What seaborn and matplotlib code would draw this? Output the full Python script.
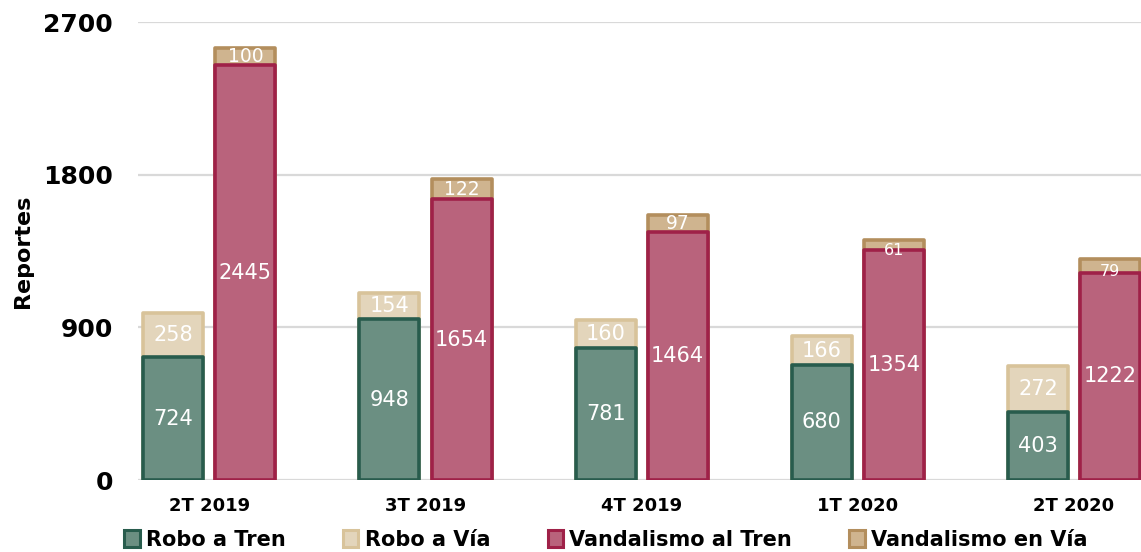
import matplotlib
matplotlib.use("Agg")
import matplotlib.pyplot as plt
from matplotlib.patches import Patch
import seaborn as sns
import pandas as pd

# Data
trimestres = ["2T 2019", "3T 2019", "4T 2019", "1T 2020", "2T 2020"]
robo_tren = [724, 948, 781, 680, 403]
robo_via = [258, 154, 160, 166, 272]
vand_tren = [2445, 1654, 1464, 1354, 1222]
vand_via = [100, 122, 97, 61, 79]
yticks = [0, 900, 1800, 2700]

# colours (fill, edge)
c_rt = ("#6b8f82", "#285c4d")
c_rv = ("#e3d5bb", "#d8c39a")
c_vt = ("#b9637c", "#9f2148")
c_vv = ("#cfb48f", "#b38e5d")

rows = []
for i, t in enumerate(trimestres):
    rows.append({"trimestre": t, "tipo": "Robo", "base": robo_tren[i],
                 "total": robo_tren[i] + robo_via[i]})
    rows.append({"trimestre": t, "tipo": "Vandalismo", "base": vand_tren[i],
                 "total": vand_tren[i] + vand_via[i]})
df = pd.DataFrame(rows)

sns.set_style("white")
plt.rcParams["font.family"] = ["DejaVu Sans"]
plt.rcParams["text.color"] = "black"
plt.rcParams["xtick.color"] = "black"
plt.rcParams["ytick.color"] = "black"
plt.rcParams["axes.labelcolor"] = "black"

fig = plt.figure(figsize=(11.41, 5.52), dpi=100)
ax = fig.add_axes([138 / 1141, 72 / 552, 1003 / 1141, 458 / 552])

# totals first (top segment colour), then the base segment over it
sns.barplot(data=df, x="trimestre", y="total", hue="tipo", order=trimestres,
            palette={"Robo": c_rv[0], "Vandalismo": c_vv[0]}, saturation=1,
            width=0.667, gap=0.167, errorbar=None, legend=False, ax=ax,
            zorder=2)
sns.barplot(data=df, x="trimestre", y="base", hue="tipo", order=trimestres,
            palette={"Robo": c_rt[0], "Vandalismo": c_vt[0]}, saturation=1,
            width=0.667, gap=0.167, errorbar=None, legend=False, ax=ax,
            zorder=3)

edges = [c_rv[1], c_vv[1], c_rt[1], c_vt[1]]
for cont, ec in zip(ax.containers, edges):
    for p in cont:
        p.set_edgecolor(ec)
        p.set_linewidth(2.6)
        p.set_joinstyle("round")

# value labels
tops = [robo_via, vand_via]
bases = [robo_tren, vand_tren]
for k in range(2):
    top_cont = ax.containers[k]
    base_cont = ax.containers[k + 2]
    for i, (pt, pb) in enumerate(zip(top_cont, base_cont)):
        cx = pb.get_x() + pb.get_width() / 2
        b = bases[k][i]
        tv = tops[k][i]
        ax.text(cx, b / 2, str(b), ha="center", va="center", color="white",
                fontsize=15, zorder=5)
        fs = 15 if tv > 140 else (13.5 if tv > 90 else 11.5)
        ty = b + tv / 2 - (30 if tv < 90 else 0)
        ax.text(cx, ty, str(tv), ha="center", va="center", color="white",
                fontsize=fs, zorder=5)

ax.set_ylim(0, 2700)
ax.set_xlim(-0.33, 4.31)
ax.set_yticks(yticks)
ax.set_yticklabels([str(v) for v in yticks], fontsize=18, fontweight="bold")
ax.tick_params(axis="y", length=0, pad=18)
ax.tick_params(axis="x", length=0, pad=12, labelsize=13)
for lab in ax.get_xticklabels():
    lab.set_fontweight("bold")
ax.grid(axis="y", color="#d9d9d9", linewidth=1.6, zorder=0)
ax.set_axisbelow(True)
sns.despine(ax=ax, left=True, bottom=True)
ax.set_xlabel("")
ax.set_ylabel("Reportes", fontsize=16, fontweight="bold")
ax.yaxis.set_label_coords(-0.105, 0.5)

handles = [Patch(facecolor=c[0], edgecolor=c[1], linewidth=2.2)
           for c in (c_rt, c_rv, c_vt, c_vv)]
labels = ["Robo a Tren", "Robo a Vía", "Vandalismo al Tren", "Vandalismo en Vía"]
fig.legend(handles, labels, loc="center", bbox_to_anchor=(0.531, 0.022),
           ncol=4, frameon=False, handlelength=0.75, handleheight=0.9,
           handletextpad=0.3, columnspacing=2.75,
           prop={"size": 15, "weight": "bold"})

fig.savefig("out.png", dpi=100)
